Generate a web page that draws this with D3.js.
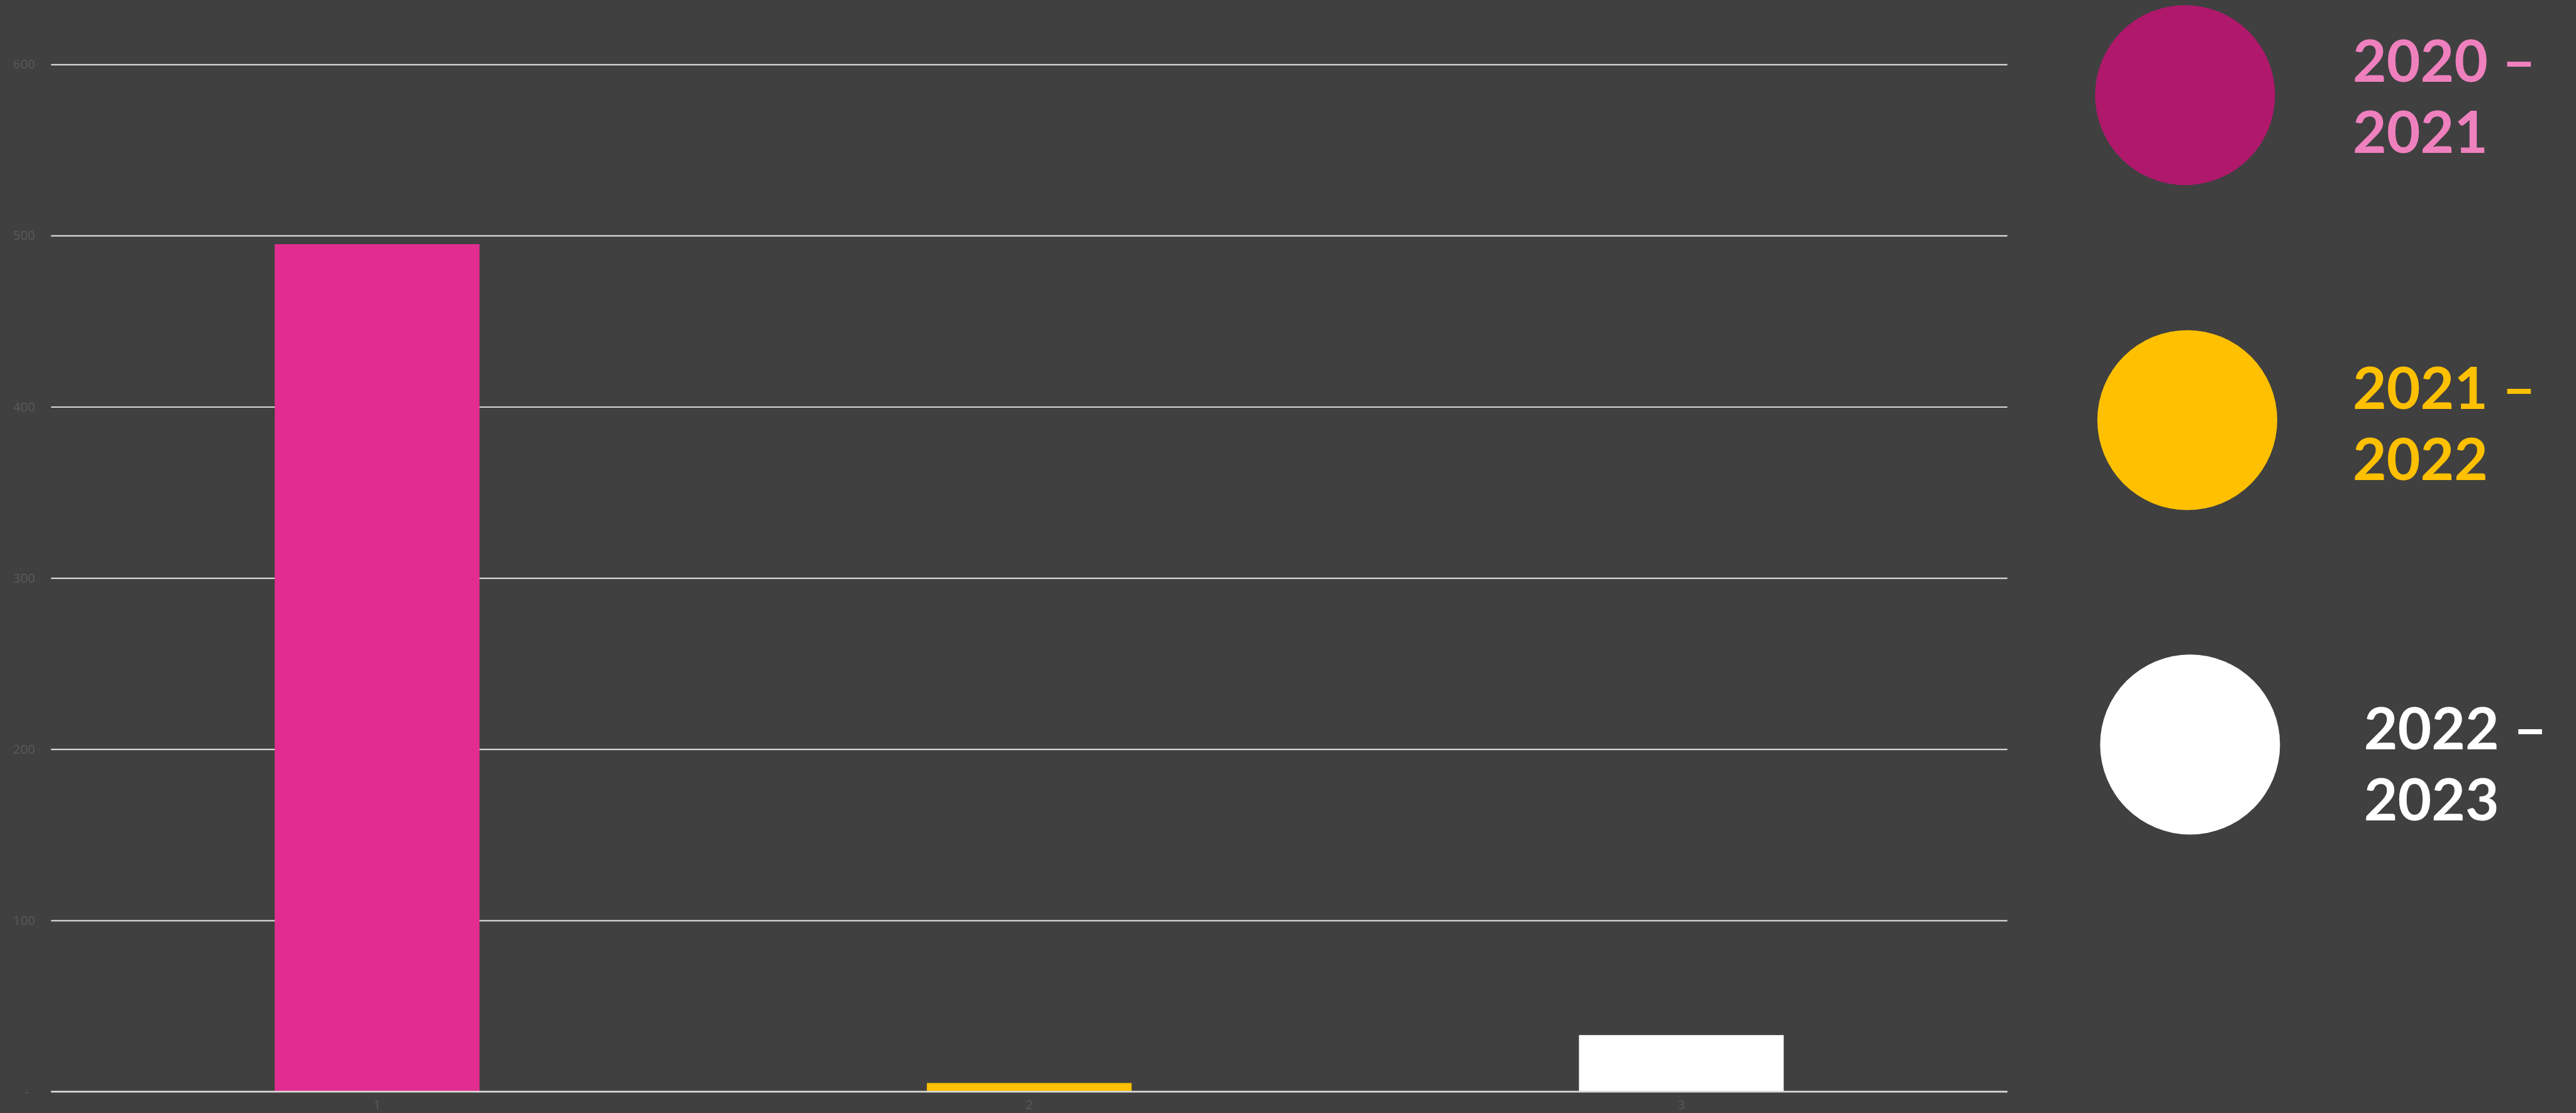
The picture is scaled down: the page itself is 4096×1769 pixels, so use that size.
<!DOCTYPE html>
<html>
<head>
<meta charset="utf-8">
<script src="https://cdn.jsdelivr.net/npm/d3@7"></script>
<style>
  html, body { margin: 0; padding: 0; background: #404040; overflow: hidden; }
</style>
</head>
<body>
<svg id="chart"></svg>
<script>
// data
const categories = ["1", "2", "3"]
const values = [495, 5, 33]
const barColors = ["#E22D90", "#FFC000", "#FFFFFF"]
const yTicks = [0, 100, 200, 300, 400, 500, 600]

const legendLabels = [["2020 –", "2021"], ["2021 –", "2022"], ["2022 –", "2023"]]
const legendDots = ["#B0186C", "#FFC000", "#FFFFFF"]
const legendText = ["#EF80BE", "#FFC000", "#FFFFFF"]

// drawn in reference pixels, then scaled down to the window by the viewBox
const W = 4639, H = 2003
const svg = d3.select("#chart")
              .attr("width", 4096)
              .attr("height", 1769)
              .attr("viewBox", "0 0 " + W + " " + H)

svg.append("rect").attr("width", W).attr("height", H).attr("fill", "#404040")

const plot = { left: 92, right: 3615, top: 115.7, bottom: 1964.7 }

const x = d3.scaleBand()
            .domain(categories)
            .range([plot.left, plot.right])
            .paddingInner(0.686)
            .paddingOuter(0.343)

const y = d3.scaleLinear()
            .domain([0, 600])
            .range([plot.bottom, plot.top])

// gridlines + y labels
const yAxis = svg.append("g")
                 .attr("transform", "translate(" + plot.left + ",0)")
                 .call(d3.axisLeft(y)
                         .tickValues(yTicks)
                         .tickSize(-(plot.right - plot.left))
                         .tickPadding(29)
                         .tickFormat(d => d === 0 ? "-" : d))

yAxis.select(".domain").remove()
yAxis.selectAll(".tick line")
     .attr("stroke", "#D9D9D9")
     .attr("stroke-width", 2.5)
yAxis.selectAll(".tick text")
     .attr("fill", "#595959")
     .style("font-family", "'Open Sans', 'DejaVu Sans', sans-serif")
     .style("font-size", "23px")
yAxis.selectAll(".tick")
     .filter(d => d === 0)
     .select("text")
     .attr("x", -40)

// bars
svg.append("g")
   .selectAll("rect")
   .data(values)
   .enter()
   .append("rect")
   .attr("x", (d, i) => x(categories[i]))
   .attr("width", x.bandwidth())
   .attr("y", d => y(d))
   .attr("height", d => y(0) - y(d))
   .attr("fill", (d, i) => barColors[i])

// redraw baseline above the bars
svg.append("line")
   .attr("x1", plot.left).attr("x2", plot.right)
   .attr("y1", y(0)).attr("y2", y(0))
   .attr("stroke", "#D9D9D9")
   .attr("stroke-width", 2.5)

// x labels (kept just inside the bottom edge)
const xAxis = svg.append("g")
                 .attr("transform", "translate(0," + plot.bottom + ")")
                 .call(d3.axisBottom(x).tickSize(0).tickPadding(15))
xAxis.select(".domain").remove()
xAxis.selectAll(".tick text")
     .attr("fill", "#595959")
     .style("font-family", "'Open Sans', 'DejaVu Sans', sans-serif")
     .style("font-size", "23px")

// legend
const legendPos = [
  { cx: 3935, cy: 171, tx: 4237, ty: 147 },
  { cx: 3939, cy: 756, tx: 4237, ty: 736 },
  { cx: 3944, cy: 1340, tx: 4257, ty: 1349 }
]

const legend = svg.append("g")
                  .selectAll("g")
                  .data(legendLabels)
                  .enter()
                  .append("g")

legend.append("circle")
      .attr("cx", (d, i) => legendPos[i].cx)
      .attr("cy", (d, i) => legendPos[i].cy)
      .attr("r", 162)
      .attr("fill", (d, i) => legendDots[i])

legend.each(function(lines, i) {
  const t = d3.select(this).append("text")
              .attr("fill", legendText[i])
              .style("font-family", "Lato, sans-serif")
              .style("font-size", "105px")
              .style("font-weight", "bold")
  lines.forEach((line, j) => {
    t.append("tspan")
     .attr("x", legendPos[i].tx)
     .attr("y", legendPos[i].ty + j * 128)
     .text(line)
  })
})
</script>
</body>
</html>
